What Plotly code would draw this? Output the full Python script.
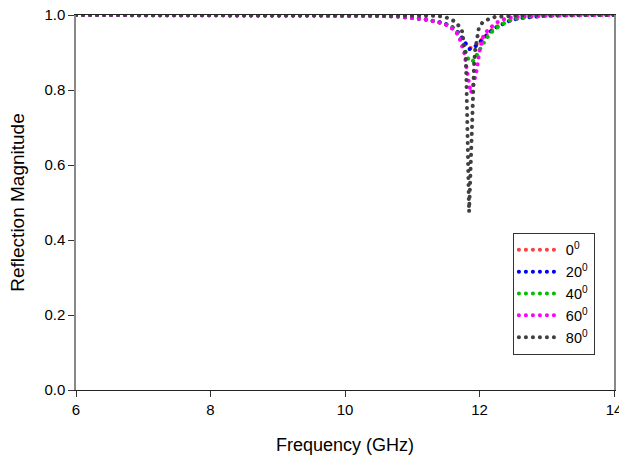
import plotly.graph_objects as go

# ---- data ----
freq = [6.0, 7.0, 8.0, 9.0, 10.0, 10.5, 10.8, 11.0, 11.2, 11.4, 11.5, 11.6, 11.65,
        11.7, 11.75, 11.78, 11.81, 11.84, 11.87, 11.9, 11.93, 11.96, 12.0, 12.05,
        12.1, 12.2, 12.3, 12.45, 12.6, 12.8, 13.0, 13.5, 14.0]

mag_0 = [1.0, 1.0, 1.0, 1.0, 0.999, 0.998, 0.996, 0.993, 0.988, 0.981, 0.976, 0.967, 0.961,
         0.951, 0.937, 0.927, 0.918, 0.913, 0.912, 0.914, 0.918, 0.922, 0.929, 0.939,
         0.948, 0.963, 0.973, 0.985, 0.992, 0.996, 0.998, 1.0, 1.0]

mag_20 = [1.0, 1.0, 1.0, 1.0, 0.999, 0.998, 0.996, 0.993, 0.988, 0.981, 0.976, 0.967, 0.960,
          0.950, 0.935, 0.925, 0.916, 0.910, 0.909, 0.911, 0.915, 0.920, 0.927, 0.937,
          0.947, 0.962, 0.972, 0.985, 0.992, 0.996, 0.998, 1.0, 1.0]

mag_40 = [1.0, 1.0, 1.0, 1.0, 0.999, 0.998, 0.996, 0.993, 0.988, 0.980, 0.975, 0.965, 0.958,
          0.945, 0.925, 0.910, 0.893, 0.880, 0.875, 0.877, 0.884, 0.895, 0.907, 0.922,
          0.937, 0.958, 0.972, 0.986, 0.993, 0.997, 0.998, 1.0, 1.0]

mag_60 = [1.0, 1.0, 1.0, 1.0, 0.999, 0.998, 0.996, 0.993, 0.988, 0.980, 0.974, 0.963, 0.955,
          0.940, 0.915, 0.895, 0.855, 0.815, 0.792, 0.807, 0.830, 0.855, 0.905, 0.940,
          0.955, 0.972, 0.985, 0.993, 0.996, 0.998, 0.999, 1.0, 1.0]

freq_80 = [6.0, 7.0, 8.0, 9.0, 10.0, 10.5, 11.0, 11.3, 11.45, 11.53, 11.61, 11.68, 11.74,
           11.77, 11.795, 11.805, 11.815, 11.83, 11.845, 11.86, 11.875, 11.895, 11.905,
           11.91, 11.92, 11.935, 11.95, 11.965, 11.99, 12.04, 12.11, 12.23, 12.45, 12.75,
           13.0, 13.5, 14.0]

mag_80 = [1.0, 1.0, 1.0, 1.0, 1.0, 1.0, 0.999, 0.998, 0.996, 0.992, 0.985, 0.974, 0.957,
          0.915, 0.89, 0.83, 0.75, 0.62, 0.475, 0.55, 0.65, 0.72, 0.78,
          0.83, 0.87, 0.905, 0.925, 0.947, 0.965, 0.979, 0.987, 0.995, 0.998, 1.0,
          1.0, 1.0, 1.0]

series_names = ["0<sup>0</sup>", "20<sup>0</sup>", "40<sup>0</sup>", "60<sup>0</sup>", "80<sup>0</sup>"]
series_colors = ["#ff4040", "#0000ff", "#00c000", "#ff00ff", "#404040"]

x_ticks = [6, 8, 10, 12, 14]
y_ticks = [0.0, 0.2, 0.4, 0.6, 0.8, 1.0]

FONT = "Liberation Sans, Arial, sans-serif"

fig = go.Figure()
series = [(freq, mag_0), (freq, mag_20), (freq, mag_40), (freq, mag_60), (freq_80, mag_80)]
for (fx, fy), name, col in zip(series, series_names, series_colors):
    fig.add_trace(go.Scatter(
        x=fx, y=fy, mode="lines", name=name,
        line=dict(color=col, width=4, dash="0.1px,6.9px"),
    ))

axis_font = dict(family=FONT, size=15, color="#000")
fig.update_layout(
    width=619, height=455,
    margin=dict(l=76, r=5, t=15, b=65, autoexpand=False),
    paper_bgcolor="white", plot_bgcolor="white",
    font=dict(family=FONT, color="#000"),
    showlegend=True,
    legend=dict(
        x=0.812, y=0.419, xanchor="left", yanchor="top",
        bordercolor="#333", borderwidth=1, bgcolor="white",
        font=dict(size=14.5, family=FONT),
        tracegroupgap=0, itemwidth=42, entrywidth=71,
    ),
    xaxis=dict(
        range=[6, 14], tickvals=x_ticks, ticktext=[str(v) for v in x_ticks],
        showgrid=False, zeroline=False, showline=True, linecolor="#222", linewidth=1,
        mirror=True, ticks="outside", ticklen=6, tickcolor="#333",
        tickfont=axis_font, automargin=False, ticklabeloverflow="allow",
        title=dict(text="Frequency (GHz)", font=dict(size=18), standoff=21),
    ),
    yaxis=dict(
        range=[0, 1.0], tickvals=y_ticks, ticktext=[f"{v:.1f}" for v in y_ticks],
        showgrid=False, zeroline=False, showline=True, linecolor="#888", linewidth=1.5,
        mirror=True, ticks="outside", ticklen=6, tickcolor="#333",
        tickfont=axis_font, automargin=False, ticklabeloverflow="allow",
        title=dict(text="Reflection Magnitude", font=dict(size=19), standoff=15),
    ),
)

# page without body margin; round dot caps, like the dotted lines of the reference
post = """
document.body.style.margin = '0';
var gd = document.getElementsByClassName('plotly-graph-div')[0];
function roundCaps(){
  gd.querySelectorAll('.scatterlayer path.js-line, .legendlines path').forEach(function(p){
    p.style.strokeLinecap = 'round';
  });
}
roundCaps();
gd.on('plotly_afterplot', roundCaps);
"""
fig.write_html("out.html", post_script=post, config={"displayModeBar": False})
